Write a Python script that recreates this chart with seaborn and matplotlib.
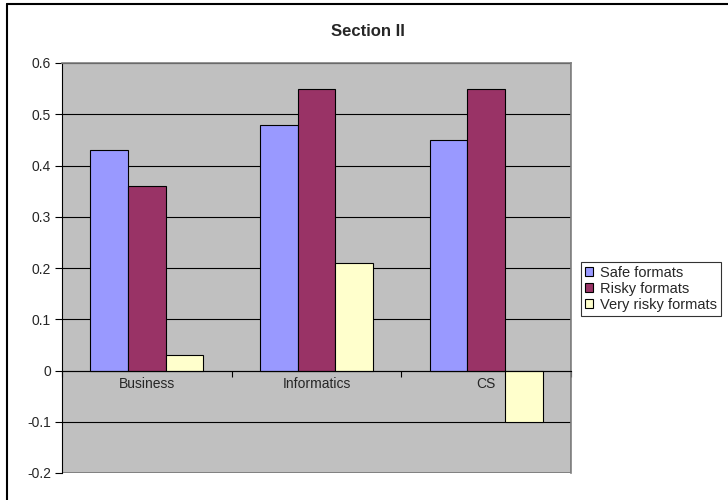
import matplotlib
matplotlib.use("Agg")
import matplotlib.pyplot as plt
from matplotlib.patches import Rectangle
import seaborn as sns
import pandas as pd

categories = ["Business", "Informatics", "CS"]
series = ["Safe formats", "Risky formats", "Very risky formats"]
safe = [0.43, 0.48, 0.45]
risky = [0.36, 0.55, 0.55]
very_risky = [0.03, 0.21, -0.10]
y_ticks = [-0.2, -0.1, 0, 0.1, 0.2, 0.3, 0.4, 0.5, 0.6]
y_tick_labels = ["-0.2", "-0.1", "0", "0.1", "0.2", "0.3", "0.4", "0.5", "0.6"]
colors = ["#9999FF", "#993366", "#FFFFCC"]

df = pd.DataFrame({
    "category": categories * 3,
    "series": [s for s in series for _ in categories],
    "value": safe + risky + very_risky,
})

sns.set_theme(style="white")
plt.rcParams["font.family"] = ["Liberation Sans", "DejaVu Sans"]

fig = plt.figure(figsize=(7.28, 5), dpi=100)
fig.patch.set_facecolor("white")

# chart frame (top and left edges)
fig.add_artist(plt.Line2D([7 / 728, 7 / 728], [0, 1 - 4 / 500], transform=fig.transFigure,
                          color="black", lw=1.5))
fig.add_artist(plt.Line2D([7 / 728, 1], [1 - 4 / 500, 1 - 4 / 500], transform=fig.transFigure,
                          color="black", lw=1.5))

ax = fig.add_axes([62 / 728, 27 / 500, 509 / 728, 410 / 500])
ax.set_facecolor("#C0C0C0")

sns.barplot(data=df, x="category", y="value", hue="series", palette=colors,
            width=0.667, gap=0, edgecolor="black", linewidth=0.8, ax=ax,
            saturation=1, errorbar=None)

ax.set_ylim(-0.2, 0.6)
ax.set_xlim(-0.5, 2.5)
ax.set_yticks(y_ticks)
ax.set_yticklabels(y_tick_labels, fontsize=10)
ax.yaxis.grid(True, color="black", lw=0.8)
ax.set_axisbelow(True)
ax.tick_params(axis="y", direction="out", length=5, width=0.8, color="black", pad=3, left=True)

# category axis crosses at zero
ax.spines["bottom"].set_position(("data", 0))
ax.spines["bottom"].set_color("black")
ax.spines["bottom"].set_linewidth(0.8)
ax.spines["left"].set_color("black")
ax.spines["left"].set_linewidth(0.8)
ax.spines["top"].set_color("#808080")
ax.spines["right"].set_color("#808080")
ax.spines["top"].set_linewidth(1.2)
ax.spines["right"].set_linewidth(1.2)
# bottom border of plot area
ax.add_patch(Rectangle((0, 0), 1, 1, transform=ax.transAxes, fill=False,
                       edgecolor="#808080", lw=1.2, zorder=0.5))

ax.set_xticks([0, 1, 2])
ax.set_xticklabels(categories, fontsize=10)
ax.set_xticks([-0.5, 0.5, 1.5, 2.5], minor=True)
ax.tick_params(axis="x", which="major", length=0, pad=5)
ax.tick_params(axis="x", which="minor", direction="out", length=4, width=0.8,
               color="black", bottom=True)
ax.set_xlabel("")
ax.set_ylabel("")

fig.text(368 / 728, 1 - 32 / 500, "Section II", ha="center", va="center",
         fontsize=12, fontweight="bold")

handles, labels = ax.get_legend_handles_labels()
ax.legend(handles, labels, loc="upper left", bbox_to_anchor=(581 / 728, 1 - 262 / 500),
          bbox_transform=fig.transFigure, frameon=True, fancybox=False, fontsize=10.5,
          edgecolor="black", handlelength=0.55, handleheight=0.55, handletextpad=0.5,
          borderpad=0.25, labelspacing=0.15, borderaxespad=0)
ax.get_legend().get_frame().set_linewidth(0.8)

fig.savefig("out.png", dpi=100)
